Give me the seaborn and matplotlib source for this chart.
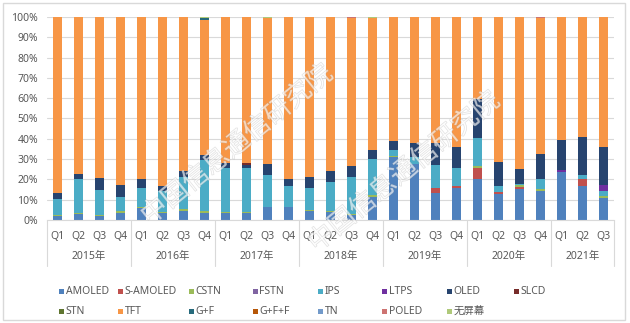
import numpy as np
import pandas as pd
import matplotlib
matplotlib.use("Agg")
import matplotlib.pyplot as plt
import seaborn as sns
from matplotlib.patches import Rectangle
from matplotlib.transforms import blended_transform_factory
import matplotlib.patheffects as pe

# ---------------- data ----------------
years = ["2015年", "2016年", "2017年", "2018年", "2019年", "2020年", "2021年"]
quarters_per_year = [4, 4, 4, 4, 4, 4, 3]
quarter_labels = ["Q1", "Q2", "Q3", "Q4"] * 6 + ["Q1", "Q2", "Q3"]

series_names = ["AMOLED", "S-AMOLED", "CSTN", "FSTN", "IPS", "LTPS", "OLED", "SLCD",
                "STN", "TFT", "G+F", "G+F+F", "TN", "POLED", "无屏幕"]

AMOLED = [2.0, 2.8, 2.1, 3.6, 6.0, 3.5, 4.6, 3.6, 3.6, 3.6, 6.2, 6.2, 4.6, 4.0,
          2.5, 11.5, 31.0, 27.5, 13.3, 15.7, 20.3, 13.0, 15.5, 14.5, 23.5, 16.7, 10.7]
S_AMOLED = [0, 0, 0, 0, 0, 0, 0, 0, 0, 0, 0, 0, 0, 0,
            0, 0, 0, 0, 2.7, 1.2, 5.3, 0.8, 1.0, 0, 0, 3.3, 0]
CSTN = [0.3, 0.5, 0.3, 0.7, 0.3, 0.3, 1.0, 1.0, 0.5, 0.3, 0.3, 0.4, 0.4, 0.3,
        0.3, 0.6, 0.3, 0, 0, 0, 1.0, 0, 0.6, 0.8, 0, 0, 1.1]
FSTN = [0] * 27
IPS = [7.9, 16.7, 12.6, 7.2, 9.3, 10.5, 15.4, 24.9, 21.6, 21.8, 15.5, 10.3, 10.6, 14.6,
       18.4, 17.9, 3.2, 3.5, 11.0, 8.9, 14.0, 3.0, 0.7, 5.0, 0, 2.0, 2.5]
LTPS = [0] * 24 + [1.0, 0, 2.8]
OLED = [2.9, 2.7, 5.8, 5.7, 4.4, 2.6, 3.3, 2.5, 2.5, 1.3, 5.5, 3.1, 5.7, 5.4,
        5.6, 4.3, 4.5, 7.0, 11.0, 10.2, 19.0, 11.7, 7.5, 12.2, 14.8, 19.0, 18.9]
SLCD = [0] * 9 + [1.2] + [0] * 17
STN = [0] * 27
TFT = [86.9, 77.3, 79.2, 82.8, 80.0, 83.1, 75.7, 66.4, 71.8, 71.8, 72.1, 80.0, 78.7, 75.7,
       72.8, 65.3, 61.0, 62.0, 62.0, 64.0, 40.4, 71.5, 74.7, 67.2, 60.7, 59.0, 64.0]
G_F = [0] * 7 + [1.2] + [0] * 19
G_F_F = [0] * 27
TN = [0] * 27
POLED = [0] * 14 + [0.4] + [0] * 8 + [0.3] + [0] * 3
NO_SCREEN = [0] * 7 + [0.4, 0, 0, 0.4, 0, 0, 0, 0, 0.4] + [0] * 11

series_values = [AMOLED, S_AMOLED, CSTN, FSTN, IPS, LTPS, OLED, SLCD,
                 STN, TFT, G_F, G_F_F, TN, POLED, NO_SCREEN]

colors = ["#4F81BD", "#C0504D", "#9BBB59", "#8064A2", "#4BACC6", "#7030A0", "#27446F",
          "#772C2A", "#5F7530", "#F79646", "#276A7C", "#B65708", "#729ACA", "#CD7371",
          "#AFC97A"]

# ---------------- figure ----------------
W, H = 630, 323
sns.set_theme(style="white")
plt.rcParams["font.family"] = ["Noto Sans", "Noto Sans CJK SC", "DejaVu Sans"]
TXT = "#595959"
GRID = "#D9D9D9"
FS = 7.5

fig = plt.figure(figsize=(W / 100, H / 100), dpi=100)
pl, pr, pt, pb = 47, 614, 17, 220
ax = fig.add_axes([pl / W, 1 - pb / H, (pr - pl) / W, (pb - pt) / H])

period_keys = []
for y, n in zip(years, quarters_per_year):
    for q in range(n):
        period_keys.append(f"{y}-Q{q + 1}")

vals = np.array(series_values, dtype=float)
bottoms = np.vstack([np.zeros(vals.shape[1]), np.cumsum(vals, axis=0)[:-1]])

for i, name in enumerate(series_names):
    sns.barplot(x=period_keys, y=vals[i], order=period_keys, color=colors[i],
                width=0.43, saturation=1, errorbar=None, ax=ax,
                bottom=bottoms[i], linewidth=0, zorder=2)

ax.set_xlim(-0.5, len(period_keys) - 0.5)
ax.set_ylim(0, 100)
ax.set_yticks(np.arange(0, 101, 10))
ax.set_yticklabels([f"{v}%" for v in range(0, 101, 10)], color=TXT, fontsize=FS)
ax.yaxis.grid(True, color=GRID, linewidth=0.8, zorder=0)
ax.set_axisbelow(True)
ax.tick_params(axis="y", length=0, pad=6.5)
ax.set_xticks(range(len(period_keys)))
ax.set_xticklabels(quarter_labels, color=TXT, fontsize=FS)
ax.tick_params(axis="x", length=0, pad=8)
ax.set_xlabel("")
ax.set_ylabel("")
for s in ["left", "right", "top"]:
    ax.spines[s].set_visible(False)
ax.spines["bottom"].set_color(GRID)
ax.spines["bottom"].set_linewidth(0.8)

# multi-level category axis
trans = blended_transform_factory(ax.transData, ax.transAxes)
axh = pb - pt
start = 0
seps = [-0.5]
for y, n in zip(years, quarters_per_year):
    center = start + (n - 1) / 2
    ax.text(center, (pb - 256) / axh, y, transform=trans, ha="center", va="center",
            fontsize=FS, color=TXT)
    start += n
    seps.append(start - 0.5)
for s in seps:
    ax.plot([s, s], [0, (pb - 266) / axh], transform=trans, color=GRID,
            linewidth=0.8, clip_on=False)

# legend (Excel-style uniform columns)
col_x = [61, 120, 191, 255, 320, 384, 449, 516]
row_y = [291, 311]
for i, name in enumerate(series_names):
    r, c = divmod(i, 8)
    x0, y0 = col_x[c], row_y[r]
    fig.patches.append(Rectangle(((x0 - 2.5) / W, 1 - (y0 + 2.5) / H), 5 / W, 5 / H,
                                 transform=fig.transFigure, facecolor=colors[i],
                                 edgecolor="none"))
    fig.text((x0 + 4.5) / W, 1 - y0 / H, name, ha="left", va="center",
             fontsize=FS, color=TXT)

# watermark
for cx, cy in [(237, 145), (404, 172)]:
    fig.text(cx / W, 1 - cy / H, "中国信息通信研究院", ha="center", va="center",
             rotation=39, fontsize=19, color="white", alpha=0.4,
             family=["Noto Sans CJK SC"], zorder=10,
             path_effects=[pe.withStroke(linewidth=0.6, foreground="#B0B0B0")])

# chart border
fig.patches.append(Rectangle((3 / W, 3 / H), (W - 8) / W, (H - 6) / H,
                             transform=fig.transFigure, facecolor="none",
                             edgecolor=GRID, linewidth=1.0))

fig.savefig("out.png", dpi=100)
